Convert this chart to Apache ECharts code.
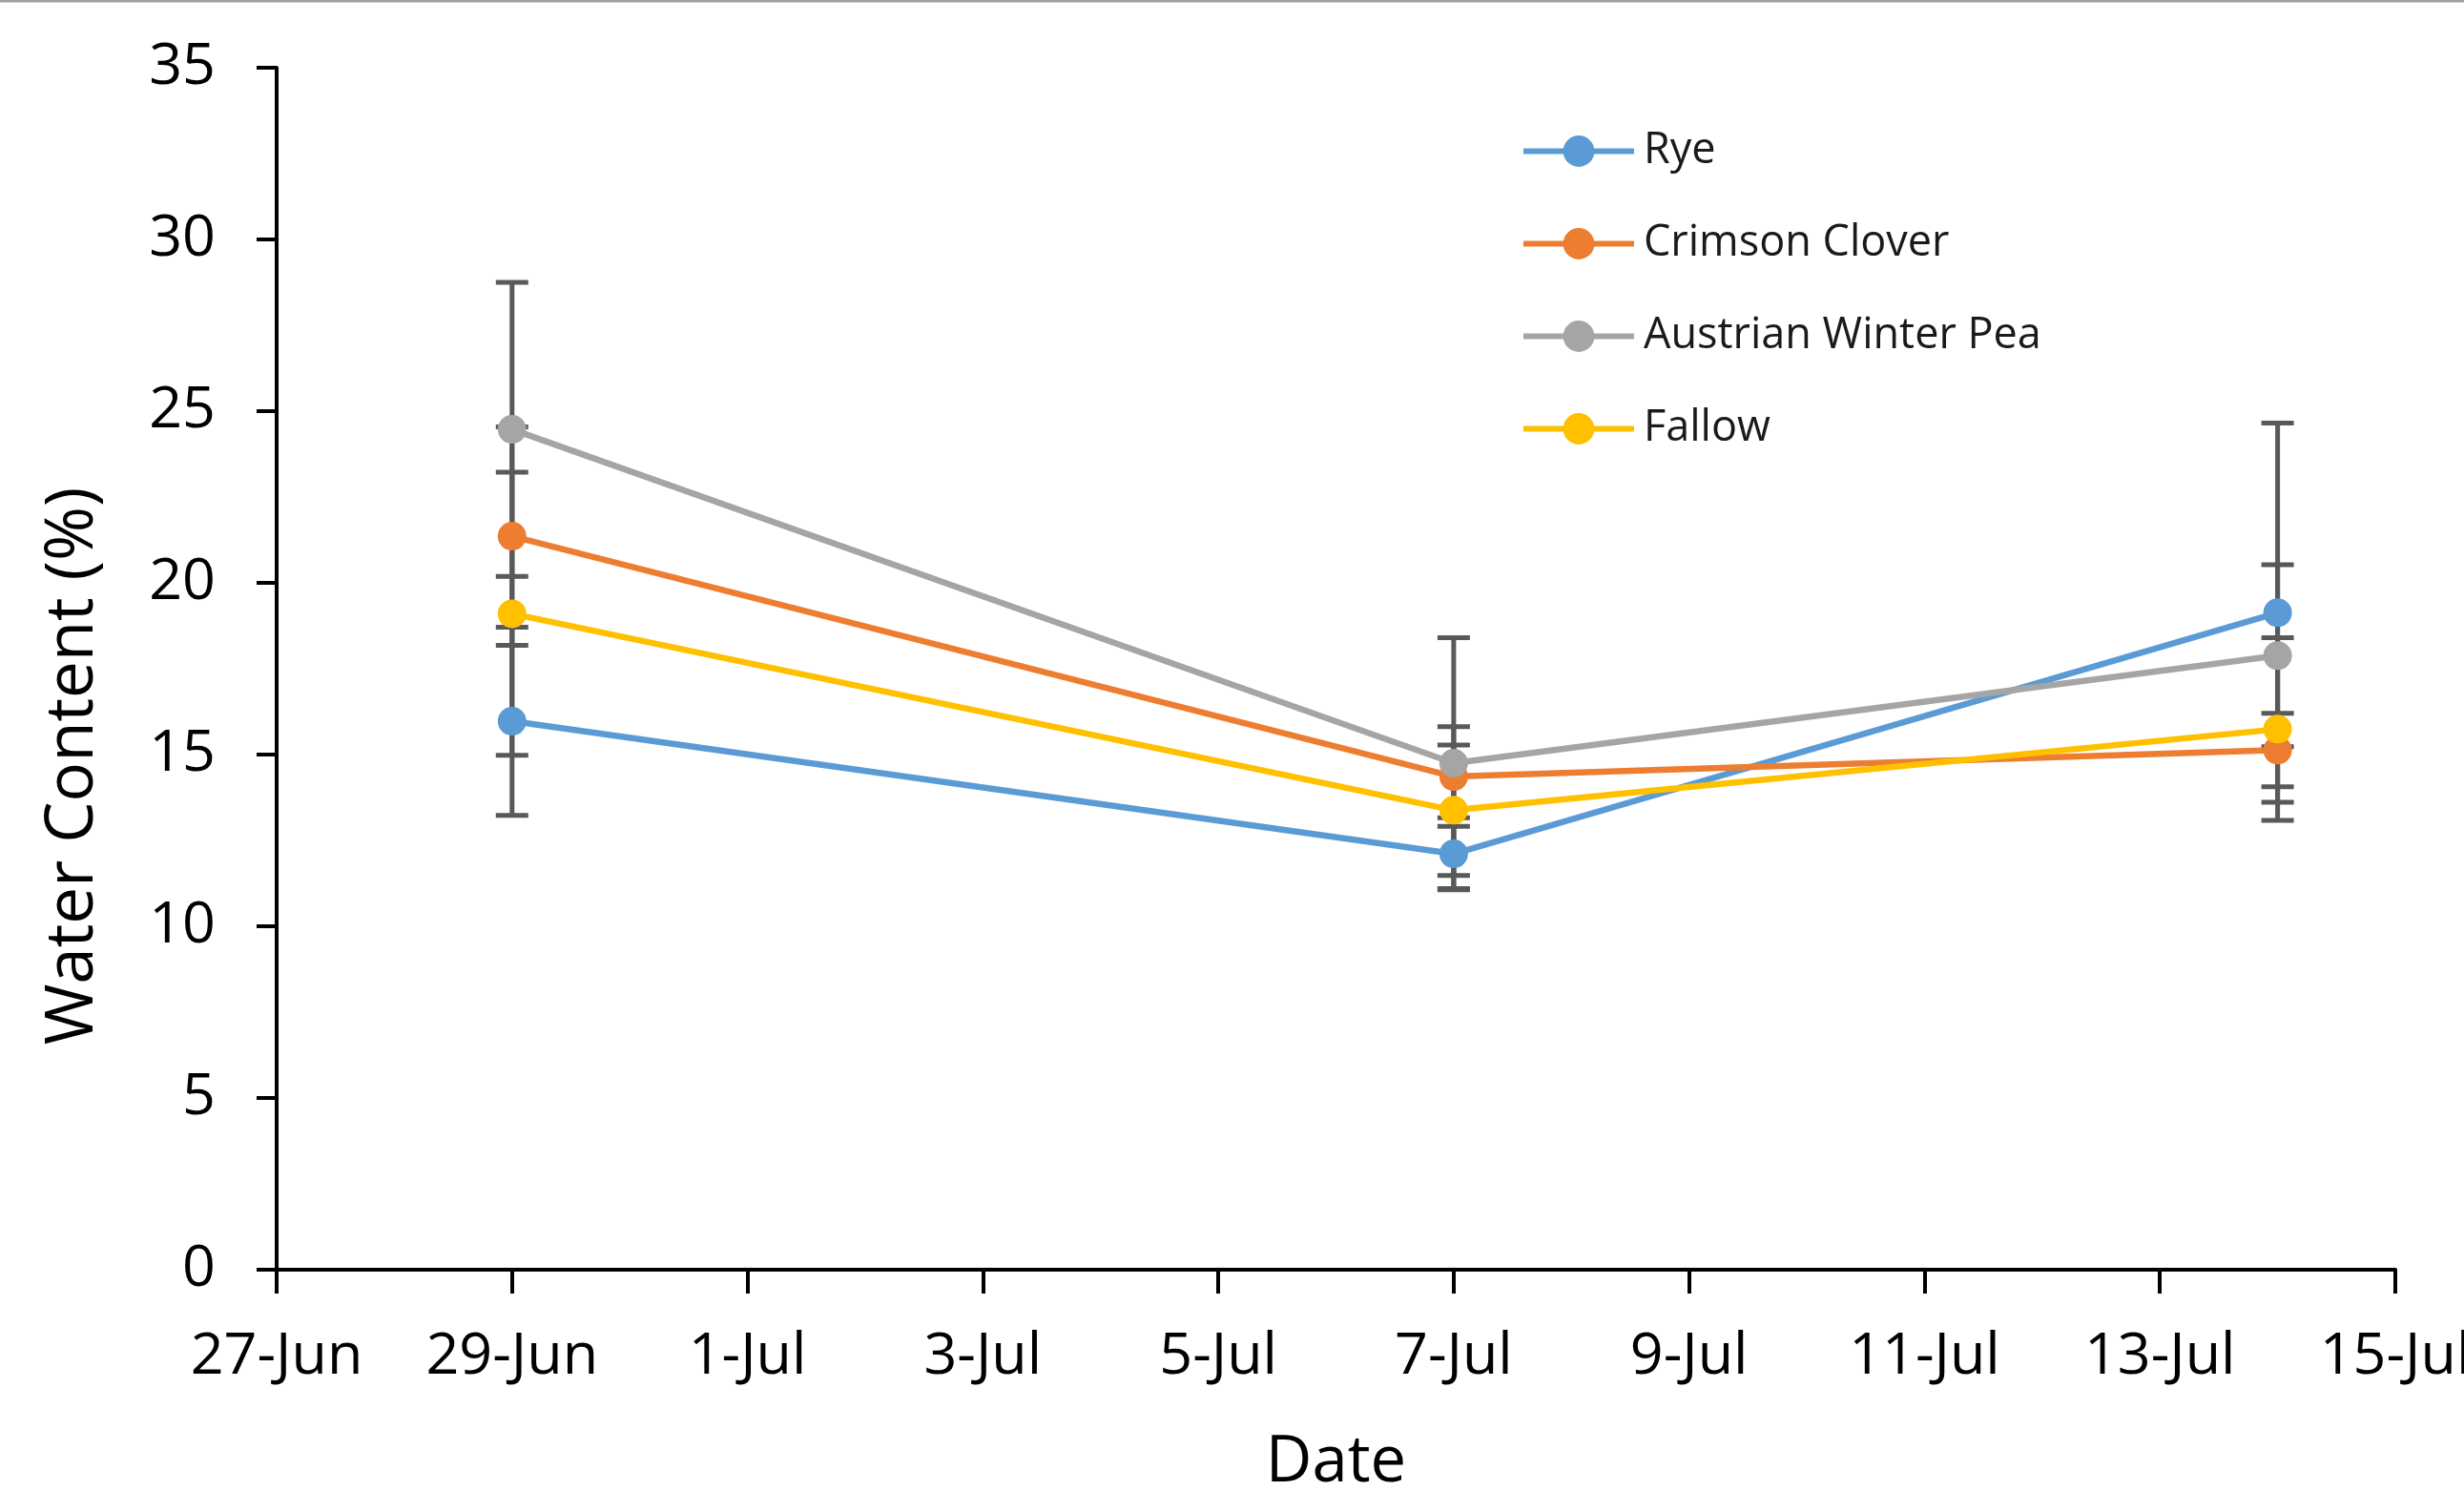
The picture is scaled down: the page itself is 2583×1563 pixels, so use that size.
<!DOCTYPE html>
<html>
<head>
<meta charset="utf-8">
<script src="https://cdn.jsdelivr.net/npm/echarts@6/dist/echarts.min.js"></script>
<style>
html,body{margin:0;padding:0;background:#fff;}
#chart{width:2583px;height:1563px;}
</style>
</head>
<body>
<div id="chart"></div>
<script>
// ---- data ----
const axisStart = '2019-06-27';
const axisEnd = '2019-07-15';
const sampleDates = ['2019-06-29', '2019-07-07', '2019-07-14'];
const seriesNames = ['Rye', 'Crimson Clover', 'Austrian Winter Pea', 'Fallow'];
const ryeValues = [15.97, 12.11, 19.13];
const ryeErrors = [2.74, 1.05, 5.52];
const cloverValues = [21.36, 14.36, 15.13];
const cloverErrors = [3.18, 1.45, 1.07];
const peaValues = [24.47, 14.75, 17.88];
const peaErrors = [4.28, 3.65, 2.65];
const fallowValues = [19.10, 13.38, 15.74];
const fallowErrors = [4.12, 1.90, 2.66];
const yTicks = [0, 5, 10, 15, 20, 25, 30, 35];
const monthNames = ['Jan','Feb','Mar','Apr','May','Jun','Jul','Aug','Sep','Oct','Nov','Dec'];

// ---- helpers ----
const DAY = 86400000;
function dayOffset(s) { return Math.round((Date.parse(s + 'T00:00:00Z') - Date.parse(axisStart + 'T00:00:00Z')) / DAY); }
const xs = sampleDates.map(dayOffset);
const xMax = dayOffset(axisEnd);
function fmtDay(v) {
  const d = new Date(Date.parse(axisStart + 'T00:00:00Z') + v * DAY);
  return d.getUTCDate() + '-' + monthNames[d.getUTCMonth()];
}
const colors = ['#5B9BD5', '#ED7D31', '#A5A5A5', '#FFC000'];
const valueSets = [ryeValues, cloverValues, peaValues, fallowValues];
const errorSets = [ryeErrors, cloverErrors, peaErrors, fallowErrors];
const FONT = '"Open Sans", "Noto Sans", sans-serif';

function renderErr(params, api) {
  const x = api.value(0), y = api.value(1), e = api.value(2);
  const hi = api.coord([x, y + e]);
  const lo = api.coord([x, y - e]);
  const hw = 17;
  const style = { stroke: '#595959', lineWidth: 5, fill: null };
  return {
    type: 'group',
    children: [
      { type: 'line', shape: { x1: hi[0], y1: hi[1], x2: lo[0], y2: lo[1] }, style: style },
      { type: 'line', shape: { x1: hi[0] - hw, y1: hi[1], x2: hi[0] + hw, y2: hi[1] }, style: style },
      { type: 'line', shape: { x1: lo[0] - hw, y1: lo[1], x2: lo[0] + hw, y2: lo[1] }, style: style }
    ]
  };
}

const series = [];
seriesNames.forEach((name, i) => {
  series.push({
    name: name + ' error',
    type: 'custom',
    renderItem: renderErr,
    z: 1,
    silent: true,
    encode: { x: 0, y: 1 },
    data: xs.map((x, j) => [x, valueSets[i][j], errorSets[i][j]])
  });
});
seriesNames.forEach((name, i) => {
  series.push({
    name: name,
    type: 'line',
    z: 3 + i,
    symbol: 'circle',
    symbolSize: 30,
    showAllSymbol: true,
    color: colors[i],
    lineStyle: { width: 6.5, color: colors[i] },
    itemStyle: { color: colors[i] },
    data: xs.map((x, j) => [x, valueSets[i][j]])
  });
});

const chart = echarts.init(document.getElementById('chart'), null, { renderer: 'canvas' });
chart.setOption({
  animation: false,
  backgroundColor: '#fff',
  grid: { left: 290, right: 72, top: 71, bottom: 232, containLabel: false, outerBoundsMode: 'none' },
  legend: {
    data: seriesNames,
    orient: 'vertical',
    left: 1594,
    top: 136,
    padding: 0,
    itemWidth: 116,
    itemHeight: 41,
    itemGap: 52,
    lineStyle: { width: 6 },
    textStyle: { fontFamily: FONT, fontSize: 45, color: '#1a1a1a', padding: [0, 0, 0, 5] }
  },
  xAxis: {
    type: 'value',
    min: 0,
    max: xMax,
    interval: 2,
    name: 'Date',
    nameLocation: 'middle',
    nameGap: 169,
    nameTextStyle: { fontFamily: FONT, fontSize: 67, color: '#000' },
    axisLine: { show: true, onZero: false, lineStyle: { color: '#000', width: 4 } },
    axisTick: { show: true, length: 25, lineStyle: { color: '#000', width: 4 } },
    axisLabel: { showMinLabel: true, showMaxLabel: true, margin: 61, fontFamily: FONT, fontSize: 61, color: '#000', formatter: fmtDay },
    splitLine: { show: false }
  },
  yAxis: {
    type: 'value',
    min: yTicks[0],
    max: yTicks[yTicks.length - 1],
    interval: yTicks[1] - yTicks[0],
    name: 'Water Content (%)',
    nameLocation: 'middle',
    nameGap: 178,
    nameTextStyle: { fontFamily: FONT, fontSize: 69, color: '#000', padding: [0, 204, 0, 0] },
    axisLine: { show: true, lineStyle: { color: '#000', width: 4 } },
    axisTick: { show: true, length: 21, lineStyle: { color: '#000', width: 4 } },
    axisLabel: { margin: 64, fontFamily: FONT, fontSize: 61, color: '#000' },
    splitLine: { show: false }
  },
  graphic: [{
    type: 'line',
    shape: { x1: 0, y1: 1, x2: 2583, y2: 1 },
    style: { stroke: '#a0a0a0', lineWidth: 3 },
    silent: true
  }],
  series: series
});
</script>
</body>
</html>
